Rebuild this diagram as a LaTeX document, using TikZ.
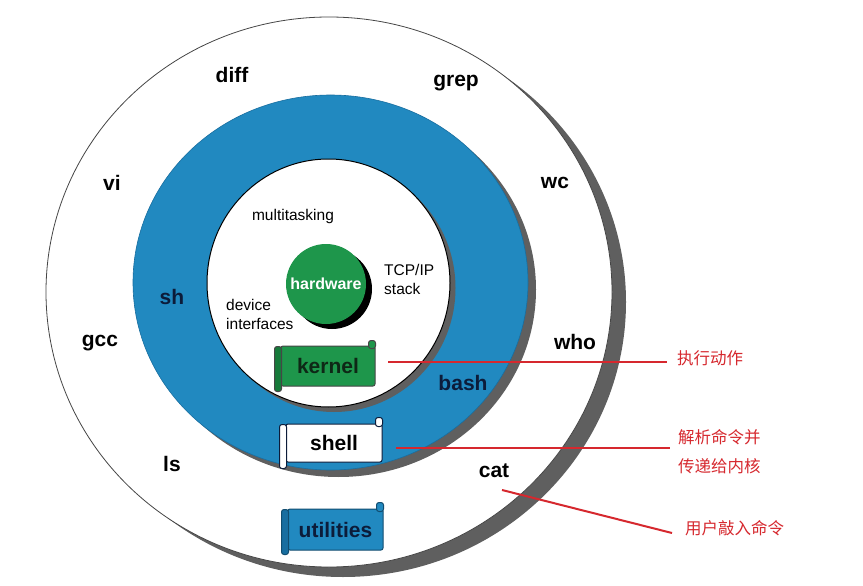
\documentclass[tikz,border=0pt]{standalone}
\usepackage{fontspec}
\setmainfont{Liberation Sans}
\newfontfamily\cjk{Noto Sans CJK SC}
\usetikzlibrary{calc}
\definecolor{ringblue}{RGB}{33,137,192}
\definecolor{ringbluedark}{RGB}{24,110,160}
\definecolor{hwgreen}{RGB}{30,150,75}
\definecolor{kgreendark}{RGB}{22,122,58}
\definecolor{shadowgray}{RGB}{95,95,95}
\definecolor{navy}{RGB}{12,28,58}
\definecolor{ktext}{RGB}{14,40,22}
\definecolor{noteRed}{RGB}{214,40,46}
\definecolor{outline}{RGB}{70,70,70}
\begin{document}
\begin{tikzpicture}[x=1pt,y=-1pt,
  cmd/.style={font=\fontsize{21}{21}\selectfont\bfseries, text=black, inner sep=0pt},
  shellname/.style={font=\fontsize{21}{21}\selectfont\bfseries, text=navy, inner sep=0pt},
  small/.style={font=\fontsize{15.5}{19}\selectfont, text=black, inner sep=0pt},
  scrollbody/.style={rectangle, rounded corners=2pt, line width=1pt, inner sep=0pt,
     font=\fontsize{21}{21}\selectfont\bfseries},
  scrollpart/.style={rounded corners=2.5pt, line width=1pt},
  redline/.style={draw=noteRed, line width=2pt},
  cnlabel/.style={font=\cjk\fontsize{16.5}{20}\selectfont, text=noteRed, anchor=west, inner sep=0pt}]
\useasboundingbox (0,0) rectangle (863,586);
\fill[white] (0,0) rectangle (863,586);

% outer circle (utilities ring)
\fill[shadowgray] (343,302) ellipse [x radius=283pt, y radius=275pt];
\filldraw[fill=white, draw=outline, line width=0.8pt] (329,292) ellipse [x radius=283pt, y radius=275pt];

% blue ring (shell)
\fill[shadowgray] (338.5,289.5) ellipse [x radius=197.5pt, y radius=187.5pt];
\filldraw[fill=ringblue, draw=ringbluedark, line width=0.6pt] (330.5,282.5) ellipse [x radius=197.5pt, y radius=187.5pt];

% inner white circle (kernel)
\fill[shadowgray] (334,288) ellipse [x radius=121.5pt, y radius=124pt];
\filldraw[fill=white, draw=black, line width=1pt] (328.5,283) ellipse [x radius=121.5pt, y radius=124pt];

% hardware
\fill[black] (332,289) circle [radius=40pt];
\node[circle, fill=hwgreen, minimum size=80pt, inner sep=0pt, text=white,
  font=\fontsize{16}{16}\selectfont\bfseries] (hw) at (326,284) {hardware};

% kernel ring texts
\node[small] (mt) at (293,216) {multitasking};
\node[small, align=left, anchor=west] (tcp) at (384,279) {TCP/IP\\stack};
\node[small, align=left, anchor=west] (dev) at (226,314) {device\\interfaces};

% shell names
\node[shellname] (sh) at (172,297) {sh};
\node[shellname] (bash) at (463,383) {bash};

% utilities names
\node[cmd] (diff) at (232,75) {diff};
\node[cmd] (grep) at (456,83) {grep};
\node[cmd] (vi) at (112,183) {vi};
\node[cmd] (wc) at (555,183) {wc};
\node[cmd] (gcc) at (100,343) {gcc};
\node[cmd] (who) at (575,342) {who};
\node[cmd] (ls) at (172,464) {ls};
\node[cmd] (cat) at (494,471) {cat};

% kernel scroll
\node[scrollbody, fill=hwgreen, draw=outline, text=ktext, minimum width=94pt, minimum height=40pt] (kernel) at (328,366) {kernel};
\draw[scrollpart, fill=kgreendark, draw=outline] ($(kernel.north west)+(-6,1)$) rectangle ($(kernel.south west)+(1,5)$);
\draw[scrollpart, fill=hwgreen, draw=outline] ($(kernel.north east)+(-7,-5)$) rectangle ($(kernel.north east)+(0,3)$);

% shell scroll
\node[scrollbody, fill=white, draw=navy, text=black, minimum width=96pt, minimum height=38pt] (shell) at (334,443) {shell};
\draw[scrollpart, fill=white, draw=navy] ($(shell.north west)+(-6,1)$) rectangle ($(shell.south west)+(1,6)$);
\draw[scrollpart, fill=white, draw=navy] ($(shell.north east)+(-7,-6)$) rectangle ($(shell.north east)+(0,3)$);

% utilities scroll
\node[scrollbody, fill=ringblue, draw=ringbluedark!70!black, text=navy, minimum width=95pt, minimum height=41pt] (util) at (335.5,529.5) {utilities};
\draw[scrollpart, fill=ringbluedark, draw=ringbluedark!70!black] ($(util.north west)+(-6,1)$) rectangle ($(util.south west)+(1,4)$);
\draw[scrollpart, fill=ringblue, draw=ringbluedark!70!black] ($(util.north east)+(-7,-6)$) rectangle ($(util.north east)+(0,3)$);

% annotations
\coordinate (k1) at (388,362);
\coordinate (k2) at (667,362);
\coordinate (s1) at (396,448);
\coordinate (s2) at (670,448);
\coordinate (u1) at (502,490);
\coordinate (u2) at (672,533);
\draw[redline] (k1) -- (k2);
\draw[redline] (s1) -- (s2);
\draw[redline] (u1) -- (u2);
\node[cnlabel] (lk) at (677,358) {执行动作};
\node[cnlabel] (ls1) at (678,437) {解析命令并};
\node[cnlabel] (ls2) at (678,466) {传递给内核};
\node[cnlabel] (lu) at (685,528) {用户敲入命令};
\end{tikzpicture}
\end{document}
